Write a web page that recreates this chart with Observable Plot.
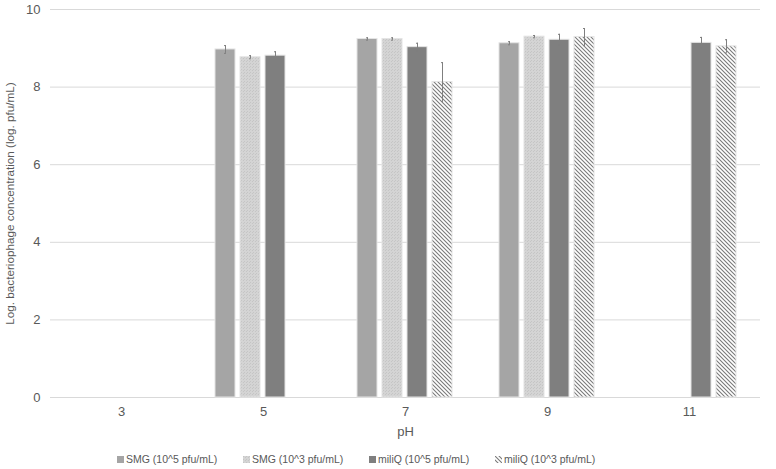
<!DOCTYPE html>
<html>
<head>
<meta charset="utf-8">
<script src="https://cdn.jsdelivr.net/npm/d3@7"></script>
<script src="https://cdn.jsdelivr.net/npm/@observablehq/plot@0.6"></script>
<style>
  body { margin: 0; background: #fff; font-family: "Liberation Sans", Arial, sans-serif; }
  #wrap { position: relative; width: 776px; height: 469px; }
  #legend { position: absolute; left: 117px; top: 453px; display: flex; font-size: 10.5px; color: #595959; }
  #legend .item { width: 126px; display: flex; align-items: center; white-space: nowrap; }
  #legend svg { margin-right: 2px; }
  [aria-label="y-axis label"] text { font-size: 11.7px; }
</style>
</head>
<body>
<svg width="0" height="0" style="position:absolute">
  <defs>
    <pattern id="patSmg3" width="3" height="3" patternUnits="userSpaceOnUse">
      <rect width="3" height="3" fill="#d4d4d4"></rect>
      <path d="M0,0 L1,1 M2,1 L3,2" stroke="#c2c2c2" stroke-width="0.8"></path>
    </pattern>
    <pattern id="patMq3" width="4" height="4" patternUnits="userSpaceOnUse">
      <rect width="4" height="4" fill="#ffffff"></rect>
      <path d="M-1,-1 L5,5 M3,-1 L5,1 M-1,3 L1,5" stroke="#7a7a7a" stroke-width="1.1"></path>
    </pattern>
  </defs>
</svg>
<div id="wrap">
  <div id="chart"></div>
  <div id="legend"></div>
</div>
<script>
const phs = ["3", "5", "7", "9", "11"];
const series = ["SMG (10^5 pfu/mL)", "SMG (10^3 pfu/mL)", "miliQ (10^5 pfu/mL)", "miliQ (10^3 pfu/mL)"];
const fills = ["#a5a5a5", "url(#patSmg3)", "#7f7f7f", "url(#patMq3)"];
// values per series, one per pH (null = no bar)
const smg5 = [null, 8.97, 9.24, 9.13, null];
const smg3 = [null, 8.77, 9.24, 9.30, null];
const mq5 = [null, 8.81, 9.03, 9.22, 9.14];
const mq3 = [null, null, 8.13, 9.29, 9.05];
// error half-widths
const smg5Err = [null, 0.10, 0.03, 0.04, null];
const smg3Err = [null, 0.04, 0.03, 0.03, null];
const mq5Err = [null, 0.10, 0.10, 0.14, 0.14];
const mq3Err = [null, null, 0.50, 0.22, 0.17];
const yTicks = [0, 2, 4, 6, 8, 10];

const vals = [smg5, smg3, mq5, mq3];
const errs = [smg5Err, smg3Err, mq5Err, mq3Err];
const rows = [];
series.forEach((s, i) => {
  phs.forEach((p, j) => {
    if (vals[i][j] != null) rows.push({ph: p, series: s, value: vals[i][j], err: errs[i][j]});
  });
});
const gridRows = [];
phs.forEach(p => yTicks.forEach(t => gridRows.push({ph: p, tick: t})));

const chart = Plot.plot({
  width: 776,
  height: 445,
  marginLeft: 50,
  marginRight: 16,
  marginTop: 9,
  marginBottom: 48,
  style: {fontFamily: "'Liberation Sans', Arial, sans-serif", fontSize: "13px", color: "#595959", background: "#fff"},
  fx: {domain: phs, padding: 0, label: "pH", labelAnchor: "center", tickSize: 0, tickPadding: 9, labelOffset: 38},
  x: {domain: series, paddingInner: 0.19, paddingOuter: 0.85, axis: null},
  y: {domain: [0, 10], ticks: yTicks, tickSize: 0, tickPadding: 10, grid: false,
      label: "Log. bacteriophage concentration (log. pfu/mL)", labelAnchor: "center", labelOffset: 45, labelArrow: "none"},
  color: {domain: series, range: fills},
  marks: [
    Plot.ruleY(gridRows, {fx: "ph", y: "tick", stroke: "#d9d9d9", strokeWidth: 1}),
    Plot.barY(rows, {fx: "ph", x: "series", y: "value", fill: "series", stroke: "#e4e4e4", strokeWidth: 1}),
    Plot.ruleX(rows, {fx: "ph", x: "series", y1: d => d.value - d.err, y2: d => d.value + d.err, stroke: "#7f7f7f", strokeWidth: 1}),
    Plot.tickY(rows, {fx: "ph", x: "series", y: d => d.value - d.err, stroke: "#7f7f7f", insetLeft: 9, insetRight: 9}),
    Plot.tickY(rows, {fx: "ph", x: "series", y: d => d.value + d.err, stroke: "#7f7f7f", insetLeft: 9, insetRight: 9})
  ]
});
document.getElementById("chart").appendChild(chart);

const legend = document.getElementById("legend");
series.forEach((s, i) => {
  const item = document.createElement("div");
  item.className = "item";
  item.innerHTML = `<svg width="7" height="7"><rect width="7" height="7" fill="${fills[i]}"></rect></svg><span>${s}</span>`;
  legend.appendChild(item);
});
</script>
</body>
</html>
